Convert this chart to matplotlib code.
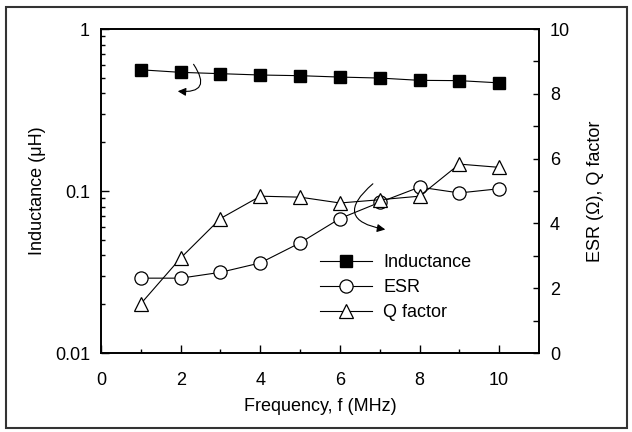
import matplotlib
matplotlib.use("Agg")
import matplotlib.pyplot as plt
from matplotlib.ticker import MultipleLocator, FixedLocator, NullFormatter
from matplotlib.patches import Rectangle, FancyArrowPatch

# datos
freq = [1, 2, 3, 4, 5, 6, 7, 8, 9, 10]
inductance = [0.56, 0.54, 0.53, 0.52, 0.515, 0.505, 0.498, 0.482, 0.48, 0.465]
esr = [2.31, 2.31, 2.49, 2.78, 3.40, 4.15, 4.65, 5.12, 4.94, 5.07]
q_factor = [1.52, 2.93, 4.15, 4.84, 4.81, 4.63, 4.73, 4.84, 5.83, 5.73]

plt.rcParams['font.family'] = ['Liberation Sans', 'DejaVu Sans']
plt.rcParams['font.size'] = 13

fig = plt.figure(figsize=(6.32, 4.32), dpi=100)
ax = fig.add_axes([101/632, 79/432, 438/632, 324/432])
ax2 = ax.twinx()

# Inductancia (eje izquierdo, log)
l1, = ax.plot(freq, inductance, '-', color='black', lw=0.8, marker='s', ms=9,
              mfc='black', mec='black', label='Inductance')
ax.set_yscale('log')
ax.set_ylim(0.01, 1)
ax.set_xlim(0, 11)
ax.yaxis.set_major_locator(FixedLocator([0.01, 0.1, 1]))
ax.set_yticklabels(['0.01', '0.1', '1'])
ax.yaxis.set_minor_formatter(NullFormatter())
ax.xaxis.set_major_locator(FixedLocator([0, 2, 4, 6, 8, 10]))
ax.xaxis.set_minor_locator(FixedLocator([1, 3, 5, 7, 9]))
ax.tick_params(axis='both', which='both', direction='in', top=False, right=False)
ax.tick_params(axis='both', which='major', length=6, width=1)
ax.tick_params(axis='both', which='minor', length=3, width=1)
ax.tick_params(axis='x', which='major', pad=14)
ax.tick_params(axis='y', which='major', pad=8)
ax.set_xlabel('Frequency, f (MHz)', labelpad=6)
ax.set_ylabel('Inductance (\u03bcH)', labelpad=6)

# ESR y Q (eje derecho)
l2, = ax2.plot(freq, esr, '-', color='black', lw=0.8, marker='o', ms=9.5,
               mfc='white', mec='black', mew=0.9, label='ESR')
l3, = ax2.plot(freq, q_factor, '-', color='black', lw=0.8, marker='^', ms=10.5,
               mfc='white', mec='black', mew=0.9, label='Q factor')
ax2.set_ylim(0, 10)
ax2.yaxis.set_major_locator(MultipleLocator(2))
ax2.yaxis.set_minor_locator(MultipleLocator(1))
ax2.tick_params(axis='y', which='both', direction='in', length=4, width=1, pad=8)
ax2.set_ylabel('ESR (\u03a9), Q factor', labelpad=12)

for a in (ax, ax2):
    for s in a.spines.values():
        s.set_linewidth(1.2)

leg = ax2.legend(handles=[l1, l2, l3], loc='upper left', frameon=False,
                 bbox_to_anchor=(320/632, (432-254)/432), bbox_transform=fig.transFigure,
                 borderpad=0, borderaxespad=0, handlelength=2.9, handletextpad=0.6,
                 labelspacing=0.45, fontsize=13)

# flechas
fig.add_artist(FancyArrowPatch(
    (192, 370), (175, 341), transform=None, connectionstyle='arc3,rad=-1.1',
    arrowstyle='-|>', mutation_scale=12, lw=0.8, color='black'))
fig.add_artist(FancyArrowPatch(
    (375, 250), (388, 202), transform=None, connectionstyle='arc3,rad=1.1',
    arrowstyle='-|>', mutation_scale=12, lw=0.8, color='black'))

# marco
fig.add_artist(Rectangle((6/632, 4/432), 621/632, 421/432, transform=fig.transFigure,
                         fill=False, lw=1.5, ec='#333333'))

fig.savefig('out.png', dpi=100)
